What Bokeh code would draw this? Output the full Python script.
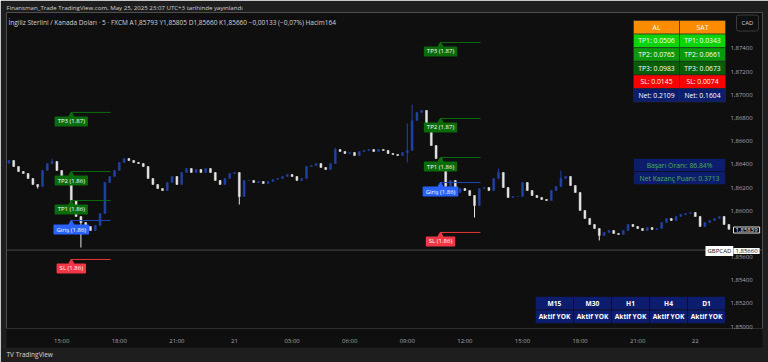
from bokeh.plotting import figure
from bokeh.models import Range1d, FixedTicker, Label, Span, Title
from bokeh.core.properties import value
from bokeh.embed import file_html
from bokeh.resources import INLINE

# ---------------- data ----------------
bar_start_hour = -11.75      # hours relative to 21 May 00:00
bar_step_hours = 0.25
first_open = 1.86410
closes = [
    1.86433, 1.86381, 1.86338, 1.86321, 1.86278, 1.86226, 1.86209, 1.86347, 1.86407, 1.86425,
    1.86347, 1.86295, 1.86243, 1.86088, 1.85950, 1.85898, 1.85864, 1.85829, 1.85872, 1.85976,
    1.86243, 1.86295, 1.86347, 1.86416, 1.86450, 1.86433, 1.86416, 1.86407, 1.86381, 1.86278,
    1.86226, 1.86191, 1.86174, 1.86243, 1.86295, 1.86226, 1.86330, 1.86364, 1.86330, 1.86356,
    1.86330, 1.86364, 1.86330, 1.86261, 1.86226, 1.86278, 1.86321, 1.86330, 1.86122, 1.86261,
    1.86261, 1.86243, 1.86252, 1.86235, 1.86252, 1.86269, 1.86278, 1.86295, 1.86312, 1.86295,
    1.86261, 1.86278, 1.86381, 1.86390, 1.86407, 1.86373, 1.86356, 1.86407, 1.86528, 1.86511,
    1.86494, 1.86502, 1.86476, 1.86511, 1.86520, 1.86528, 1.86511, 1.86528, 1.86520, 1.86494,
    1.86485, 1.86476, 1.86502, 1.86520, 1.86778, 1.86848, 1.86865, 1.86735, 1.86563, 1.86450,
    1.86347, 1.86209, 1.86261, 1.86157, 1.86191, 1.86174, 1.86131, 1.86045, 1.86191, 1.86200,
    1.86174, 1.86278, 1.86330, 1.86200, 1.86114, 1.86122, 1.86122, 1.86243, 1.86174, 1.86131,
    1.86114, 1.86097, 1.86088, 1.86174, 1.86209, 1.86278, 1.86295, 1.86217, 1.86157, 1.86002,
    1.85933, 1.85881, 1.85846, 1.85786, 1.85812, 1.85829, 1.85803, 1.85795, 1.85829, 1.85881,
    1.85864, 1.85846, 1.85829, 1.85855, 1.85838, 1.85846, 1.85898, 1.85933, 1.85915, 1.85950,
    1.85967, 1.85976, 1.85985, 1.85950, 1.85864, 1.85898, 1.85915, 1.85933, 1.85950, 1.85881,
    1.85839,
]
wick_highs = {9: 1.86450, 68: 1.86545, 83: 1.86753, 84: 1.86917, 102: 1.86364, 115: 1.86347}
wick_lows = {6: 1.86191, 15: 1.85682, 48: 1.86053, 83: 1.86416, 97: 1.85941, 123: 1.85743}

# price-scale ticks (1,85800 is hidden behind the last-price tag in the reference)
y_ticks = [1.850, 1.852, 1.854, 1.856, 1.860, 1.862, 1.864, 1.866, 1.868, 1.870, 1.872, 1.874]
y_tick_labels = ["1,85000", "1,85200", "1,85400", "1,85600", "1,86000", "1,86200",
                 "1,86400", "1,86600", "1,86800", "1,87000", "1,87200", "1,87400"]
x_ticks = [-9, -6, -3, 0, 3, 6, 9, 12, 15, 18, 21, 24]
x_tick_labels = ["15:00", "18:00", "21:00", "21", "03:00", "06:00", "09:00", "12:00",
                 "15:00", "18:00", "21:00", "22"]

level_names = ["TP3", "TP2", "TP1", "Giriş", "SL"]
left_levels = [1.86848, 1.86338, 1.86088, 1.85915, 1.85579]
left_tags = ["1.87", "1.86", "1.86", "1.86", "1.86"]
left_span = [-8.5, -6.46]
right_levels = [1.87452, 1.86796, 1.86459, 1.86243, 1.85812]
right_tags = ["1.87", "1.87", "1.86", "1.86", "1.86"]
right_span = [10.73, 12.81]

stats_cols = ["AL", "SAT"]
stats_rows = ["TP1", "TP2", "TP3", "SL", "Net"]
al_values = ["0.0506", "0.0765", "0.0983", "0.0145", "0.2109"]
sat_values = ["0.0343", "0.0661", "0.0673", "0.0074", "0.1604"]
success_rate = "86.84%"
net_points = "0.3713"
tf_names = ["M15", "M30", "H1", "H4", "D1"]
tf_status = ["Aktif YOK", "Aktif YOK", "Aktif YOK", "Aktif YOK", "Aktif YOK"]
last_price = 1.85839
ref_price = 1.85660
last_price_label = "1,85839"
ref_price_label = "1,85660"
symbol = "GBPCAD"
currency = "CAD"

header_text = "Finansman_Trade TradingView.com, May 25, 2025 23:07 UTC+3 tarihinde yayınlandı"
info_text = ("İngiliz Sterlini / Kanada Doları · 5 · FXCM  A1,85793  Y1,85805  D1,85660  "
             "K1,85660  −0,00133 (−0,07%)  Hacim164")

# ---------------- layout ----------------
W, H = 768, 362
FL, FR, FT, FB = 6, 762, 12, 328          # frame covers the whole dark panel width
PX_PER_HOUR, PX_HOUR0 = 19.2, 234
x0 = (FL - PX_HOUR0) / PX_PER_HOUR
x1 = (FR - PX_HOUR0) / PX_PER_HOUR
y_top, y_bot = 1.8771075, 1.8498304
FONT = value("Open Sans")
FNAME = "Open Sans"


def X(px):
    return x0 + (px - FL) / (FR - FL) * (x1 - x0)


def Y(py):
    return y_top - (py - FT) / (FB - FT) * (y_top - y_bot)


DY = (y_top - y_bot) / (FB - FT)

p = figure(width=W, height=H, x_range=Range1d(x0, x1), y_range=Range1d(y_bot, y_top),
           output_backend="svg", toolbar_location=None, y_axis_location="right",
           min_border_left=FL, min_border_right=W - FR, min_border_top=FT,
           min_border_bottom=H - FB)
p.background_fill_color = "#0f0f0f"
p.border_fill_color = "#1e1e1e"
p.outline_line_color = None
p.grid.visible = False

p.title.text = header_text
p.title.align = "left"
p.title.text_font = FNAME
p.title.text_font_size = "6.1px"
p.title.text_font_style = "normal"
p.title.text_color = "#d0d0d0"
p.title.standoff = 1
p.title.offset = 0

for ax in (p.xaxis[0], p.yaxis[0]):
    ax.axis_line_color = None
    ax.major_tick_line_color = None
    ax.minor_tick_line_color = None
    ax.major_label_text_color = "#a3a6af"
    ax.major_label_text_font = FNAME
    ax.major_label_text_font_size = "6px"
    try:
        ax.background_fill_color = "#0f0f0f"
    except Exception:
        pass

p.yaxis.ticker = FixedTicker(ticks=y_ticks)
p.yaxis.major_label_overrides = dict(zip(y_ticks, y_tick_labels))
p.yaxis.major_label_standoff = -38          # price scale drawn inside the dark panel
p.xaxis.ticker = FixedTicker(ticks=x_ticks)
p.xaxis.major_label_overrides = dict(zip(x_ticks, x_tick_labels))
p.xaxis.major_label_standoff = 2

# reference price line
p.add_layout(Span(location=ref_price, dimension="width", line_color="#4a4a4a", line_width=1))

# ---------------- candles ----------------
times = [bar_start_hour + bar_step_hours * i for i in range(len(closes))]
opens = [first_open] + closes[:-1]
highs = [wick_highs.get(i, max(o, c)) for i, (o, c) in enumerate(zip(opens, closes))]
lows = [wick_lows.get(i, min(o, c)) for i, (o, c) in enumerate(zip(opens, closes))]
UP, DOWN = "#2242a6", "#e4e4e4"
cols = [UP if c >= o else DOWN for o, c in zip(opens, closes)]
p.segment(x0=times, y0=lows, x1=times, y1=highs, line_color=cols, line_width=1)
p.vbar(x=times, width=0.1, top=[max(o, c) for o, c in zip(opens, closes)],
       bottom=[min(o, c) for o, c in zip(opens, closes)], fill_color=cols, line_color=cols,
       line_width=0.5)

# ---------------- trade levels ----------------
line_cols = ["#0b6b0b", "#0b6b0b", "#0b6b0b", "#2447b8", "#e53935"]
box_cols = ["#0a6b0a", "#0a6b0a", "#0a6b0a", "#2962ff", "#f23645"]
for levels, tags, span in ((left_levels, left_tags, left_span), (right_levels, right_tags, right_span)):
    p.segment(x0=[span[0]] * 5, y0=levels, x1=[span[1]] * 5, y1=levels, line_color=line_cols, line_width=1)
    p.scatter(x=[span[0]] * 5, y=[lv - 2.5 * DY for lv in levels], marker="triangle", size=5,
              fill_color=box_cols, line_color=box_cols)
    for name, tag, lv, bc in zip(level_names, tags, levels, box_cols):
        p.add_layout(Label(x=span[0], y=lv, text=f"{name} ({tag})", text_align="center",
                           text_baseline="top", y_offset=-4, text_font=FNAME, text_font_size="6px",
                           text_color="white", background_fill_color=bc, padding=(3, 1),
                           border_radius=1))

# ---------------- stats table (top right) ----------------
row_edges = [20, 33.6, 47.2, 60.8, 74.4, 88, 101.6]
col_edges = [633, 679, 725]
row_cols = ["#fb8c00", "#0bd40b", "#0a990a", "#075e07", "#f80000", "#0c1d6e"]
cells_l, cells_r, cells_t, cells_b, cells_c = [], [], [], [], []
tx, ty, tt = [], [], []
for r in range(6):
    for c in range(2):
        cells_l.append(X(col_edges[c]))
        cells_r.append(X(col_edges[c + 1]))
        cells_t.append(Y(row_edges[r]))
        cells_b.append(Y(row_edges[r + 1]))
        cells_c.append(row_cols[r])
        tx.append(X((col_edges[c] + col_edges[c + 1]) / 2))
        ty.append(Y((row_edges[r] + row_edges[r + 1]) / 2))
        if r == 0:
            tt.append(stats_cols[c])
        else:
            vals = al_values if c == 0 else sat_values
            tt.append(f"{stats_rows[r - 1]}: {vals[r - 1]}")
p.quad(left=cells_l, right=cells_r, top=cells_t, bottom=cells_b, fill_color=cells_c,
       line_color="#2a2a2a", line_width=0.6)
p.text(x=tx, y=ty, text=tt, text_align="center", text_baseline="middle", text_font=FONT,
       text_font_size="6.8px", text_color="white")

# ---------------- success box ----------------
sb_rows = [158, 171, 184]
p.quad(left=[X(633)] * 2, right=[X(725)] * 2, top=[Y(sb_rows[0]), Y(sb_rows[1])],
       bottom=[Y(sb_rows[1]), Y(sb_rows[2])], fill_color="#0c1d6e", line_color="#0f0f0f",
       line_width=0.6)
p.text(x=[X(679)] * 2, y=[Y(164.5), Y(177.5)],
       text=[f"Başarı Oranı: {success_rate}", f"Net Kazanç Puanı: {net_points}"],
       text_align="center", text_baseline="middle", text_font=FONT, text_font_size="6.8px",
       text_color="#4caf50")

# ---------------- timeframe table (bottom) ----------------
tf_edges = [535, 573, 611, 649, 687, 725]
tf_rows = [296, 309.5, 323]
ql, qr, qt, qb = [], [], [], []
ttx, tty, ttt = [], [], []
for i in range(5):
    for r in range(2):
        ql.append(X(tf_edges[i]))
        qr.append(X(tf_edges[i + 1]))
        qt.append(Y(tf_rows[r]))
        qb.append(Y(tf_rows[r + 1]))
        ttx.append(X((tf_edges[i] + tf_edges[i + 1]) / 2))
        tty.append(Y((tf_rows[r] + tf_rows[r + 1]) / 2))
        ttt.append(tf_names[i] if r == 0 else tf_status[i])
p.quad(left=ql, right=qr, top=qt, bottom=qb, fill_color="#0c1d6e", line_color="#0f0f0f",
       line_width=0.6)
p.text(x=ttx, y=tty, text=ttt, text_align="center", text_baseline="middle", text_font=FONT,
       text_font_size="6.6px", text_color="white", text_font_style="bold")

# ---------------- texts and tags ----------------
p.add_layout(Label(x=X(8), y=Y(22), text=info_text, text_baseline="middle", text_font=FNAME,
                   text_font_size="6.5px", text_color="#d1d4dc"))
logo = Title(text="TV  TradingView", align="left", text_font=FNAME, text_font_size="6.5px",
             text_font_style="normal", text_color="#d8d8d8", standoff=0)
p.add_layout(logo, "below")
p.add_layout(Label(x=736, y=22.5, x_units="canvas", y_units="canvas", text=currency,
                   text_baseline="middle", text_font=FNAME, text_font_size="6px",
                   text_color="#d0d0d0", background_fill_color="#0f0f0f",
                   border_line_color="#3a3a3a", padding=(5, 4), border_radius=2))
p.add_layout(Label(x=733, y=229.5, x_units="canvas", y_units="canvas", text=last_price_label,
                   text_baseline="middle", text_font=FNAME, text_font_size="6px",
                   text_color="white", background_fill_color="#000000",
                   border_line_color="#e0e0e0", padding=(2, 1)))
p.add_layout(Label(x=705, y=250.5, x_units="canvas", y_units="canvas", text=symbol,
                   text_baseline="middle", text_font=FNAME, text_font_size="6px",
                   text_color="#131313", background_fill_color="#ffffff", padding=(2, 1)))
p.add_layout(Label(x=733, y=250.5, x_units="canvas", y_units="canvas", text=ref_price_label,
                   text_baseline="middle", text_font=FNAME, text_font_size="6px",
                   text_color="#131313", background_fill_color="#ffffff", padding=(2, 1)))

open("out.html", "w").write(file_html(p, INLINE))
